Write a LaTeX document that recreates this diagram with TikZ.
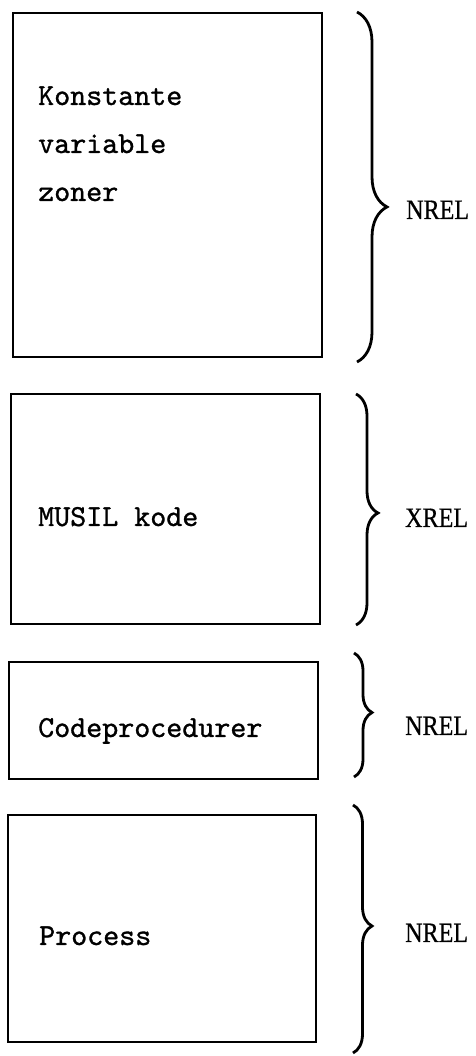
\documentclass[tikz,border=0pt]{standalone}
\usepackage{fontspec}
\newfontfamily\relfont{Liberation Serif}[FakeBold=0.6]
\newfontfamily\typefont{lmmono10-regular.otf}[FakeBold=1.0]
\usetikzlibrary{decorations.pathreplacing}
\tikzset{
  boxst/.style={draw, line width=2.2pt, inner sep=0pt, rectangle},
  txt/.style={anchor=base west, inner sep=0pt, font=\typefont\fontsize{30.5}{36}\selectfont},
  rel/.style={anchor=base west, inner sep=0pt, font=\relfont\fontsize{28}{32}\selectfont},
  bracest/.style={line width=2.8pt, decorate, decoration={brace, amplitude=#1}},
}
\begin{document}
\begin{tikzpicture}[x=1pt,y=1pt]
\useasboundingbox (0,0) rectangle (475,1056);
% boxes
\node[boxst, minimum width=309pt, minimum height=344pt] (b1) at (167.5,871) {};
\node[boxst, minimum width=309pt, minimum height=230pt] (b2) at (165.5,547) {};
\node[boxst, minimum width=309pt, minimum height=117pt] (b3) at (163.5,335.5) {};
\node[boxst, minimum width=308pt, minimum height=227pt] (b4) at (162,127.5) {};
% texts
\node[txt] (t1a) at (38,951) {Konstante};
\node[txt] (t1b) at (38,903) {variable};
\node[txt] (t1c) at (38,855) {zoner};
\node[txt] (t2) at (38,530) {MUSIL kode};
\node[txt] (t3) at (38,319) {Codeprocedurer};
\node[txt] (t4) at (39,111) {Process};
% brace ends
\coordinate (r1t) at (357,1044);
\coordinate (r1b) at (357,694);
\coordinate (r2t) at (356,662);
\coordinate (r2b) at (356,431);
\coordinate (r3t) at (354,403);
\coordinate (r3b) at (354,279);
\coordinate (r4t) at (353,251);
\coordinate (r4b) at (353,3);
\draw[bracest=30, decoration={aspect=0.557}] (r1t) -- (r1b);
\draw[bracest=22, decoration={aspect=0.515}] (r2t) -- (r2b);
\draw[bracest=18, decoration={aspect=0.48}] (r3t) -- (r3b);
\draw[bracest=19, decoration={aspect=0.488}] (r4t) -- (r4b);
% labels
\node[rel] (l1) at (406,837) {\scalebox{0.86}[1]{NREL}};
\node[rel] (l2) at (405,529) {\scalebox{0.86}[1]{XREL}};
\node[rel] (l3) at (405,321) {\scalebox{0.86}[1]{NREL}};
\node[rel] (l4) at (405,114) {\scalebox{0.86}[1]{NREL}};
\end{tikzpicture}
\end{document}
